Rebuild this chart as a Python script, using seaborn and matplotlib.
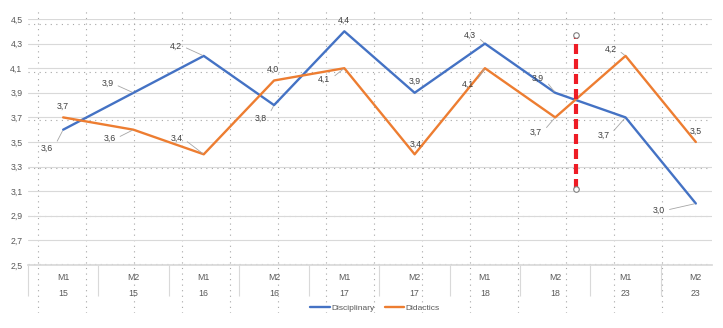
import pandas as pd
import seaborn as sns
import matplotlib.pyplot as plt
import matplotlib.ticker as ticker

# chart values
months = ["M1", "M2", "M1", "M2", "M1", "M2", "M1", "M2", "M1", "M2"]
years = ["15", "15", "16", "16", "17", "17", "18", "18", "23", "23"]
disciplinary = [3.6, 3.9, 4.2, 3.8, 4.4, 3.9, 4.3, 3.9, 3.7, 3.0]
didactics = [3.7, 3.6, 3.4, 4.0, 4.1, 3.4, 4.1, 3.7, 4.2, 3.5]
y_ticks = [2.5, 2.7, 2.9, 3.1, 3.3, 3.5, 3.7, 3.9, 4.1, 4.3, 4.5]
red_x = 7.3
red_y = [3.12, 4.37]

# label offsets (pixels) for the data callouts
disc_off = [(-16, -19), (-26, 9), (-28, 10), (-13, -13), (0, 11),
            (0, 11), (-15, 8), (-17, 14), (-22, -18), (-37, -7)]
dida_off = [(0, 11), (-24, -9), (-27, 16), (-1, 11), (-20, -11),
            (1, 10), (-17, -16), (-19, -15), (-15, 7), (0, 11)]

sns.set_theme(style="white")
plt.rcParams['font.family'] = ['Liberation Sans Narrow', 'Liberation Sans', 'DejaVu Sans']

W, H = 723, 328
fig = plt.figure(figsize=(W / 100, H / 100), dpi=100)

# dotted background grid (from the overlaid helper chart)
ax_bg = fig.add_axes([28 / W, 1 - 313 / H, (708 - 28) / W, (313 - 9) / H])
ax_bg.set_xticks(range(14))
ax_bg.set_yticks(range(6))
ax_bg.set_xlim(-10 / 48, 670 / 48)
ax_bg.set_ylim((264 - 313) / 48, (264 - 9) / 48)
ax_bg.grid(True, color='#a6a6a6', lw=0.8, linestyle=(0, (1, 4)))
ax_bg.tick_params(length=0, labelbottom=False, labelleft=False)
for s in ax_bg.spines.values():
    s.set_visible(False)
ax_bg.set_facecolor('white')

# main chart
ax = fig.add_axes([28 / W, 1 - 265 / H, (712 - 28) / W, 246 / H])
ax.set_facecolor('none')

df = pd.DataFrame({
    'x': list(range(10)) * 2,
    'value': disciplinary + didactics,
    'series': ['Disciplinary'] * 10 + ['Didactics'] * 10,
})
sns.lineplot(data=df, x='x', y='value', hue='series',
             palette={'Disciplinary': '#4472C4', 'Didactics': '#ED7D31'},
             lw=1.7, ax=ax, zorder=3)

ax.plot([red_x, red_x], red_y, color='#EE1C25', lw=3, dashes=(2.4, 1.2), zorder=4)
ax.plot([red_x, red_x], red_y, ls='none', marker='o', ms=4, mfc='white',
        mec='#7f7f7f', mew=0.8, zorder=5)

ax.set_yticks(y_ticks)
ax.yaxis.set_major_formatter(ticker.FuncFormatter(lambda v, p: f'{v:.1f}'.replace('.', ',')))
ax.grid(True, axis='y', color='#d9d9d9', lw=0.8)
ax.set_xticks(range(10))
ax.set_xticklabels([f'{m}\n{y}' for m, y in zip(months, years)], linespacing=1.95)
ax.set_xticks([k - 0.5 for k in range(11)], minor=True)
ax.set_ylim(2.5, 4.5)
ax.set_xlim(-0.5, 9.23)
ax.tick_params(axis='x', which='major', bottom=False, length=0, pad=6, labelsize=6.3,
               labelcolor='#595959')
ax.tick_params(axis='x', which='minor', bottom=True, length=22, width=0.8,
               color='#d9d9d9', direction='out')
ax.tick_params(axis='y', length=0, pad=4, labelsize=6.3, labelcolor='#595959')
ax.set_xlabel('')
ax.set_ylabel('')
for s in ['top', 'right', 'left']:
    ax.spines[s].set_visible(False)
ax.spines['bottom'].set_color('#d9d9d9')

for vals, offs in [(disciplinary, disc_off), (didactics, dida_off)]:
    for i, (v, (dx, dy)) in enumerate(zip(vals, offs)):
        txt = f'{v:.1f}'.replace('.', ',')
        if abs(dx) > 5:
            ax.annotate(txt, (i, v), xytext=(dx, dy), textcoords='offset pixels',
                        ha='center', va='center', fontsize=6.3, color='#404040',
                        arrowprops=dict(arrowstyle='-', color='#a6a6a6', lw=0.6,
                                        shrinkA=1, shrinkB=1, relpos=(1, 0.5)))
        else:
            ax.annotate(txt, (i, v), xytext=(dx, dy), textcoords='offset pixels',
                        ha='center', va='center', fontsize=6.3, color='#404040')

ax.legend(loc='center', bbox_to_anchor=(375 / W, 1 - 308 / H), bbox_transform=fig.transFigure,
          ncol=2, frameon=False, fontsize=6, handlelength=2.3, handletextpad=0.2,
          columnspacing=1.2, title=None, labelcolor='#595959')

fig.savefig('out.png', dpi=100)
